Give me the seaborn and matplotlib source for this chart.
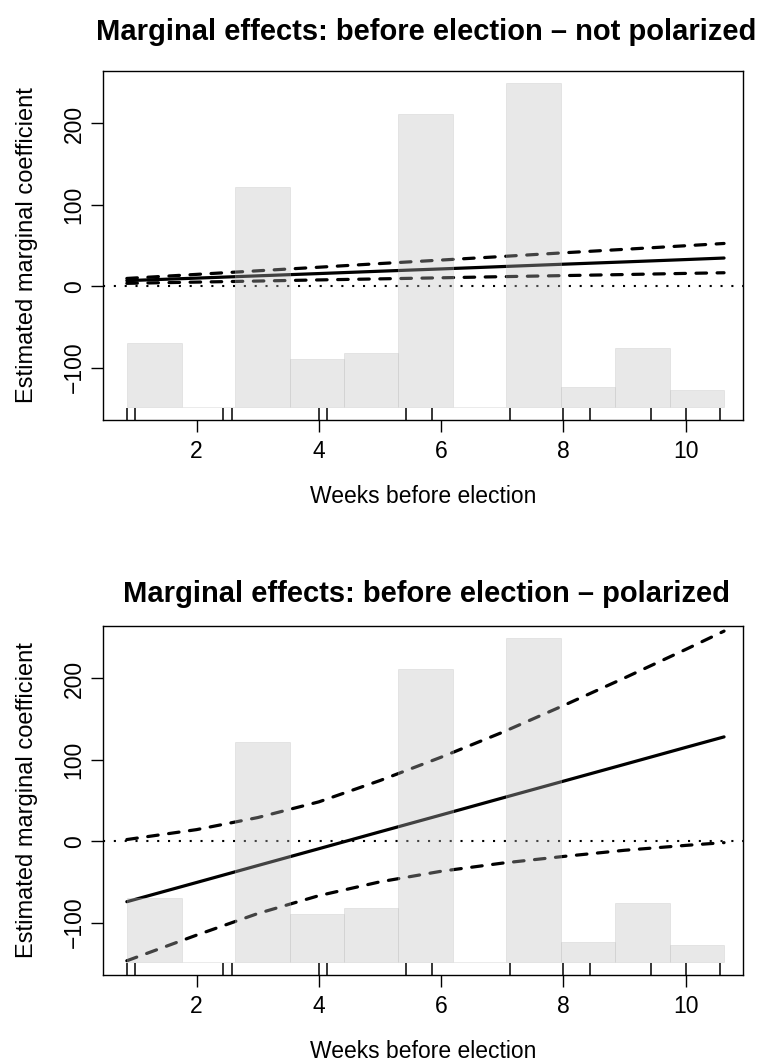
import matplotlib
matplotlib.use("Agg")
import matplotlib.pyplot as plt
import numpy as np
import pandas as pd
import seaborn as sns

# ---------------- data ----------------
x_grid = [0.86, 2, 3, 4, 5, 6, 7, 8, 9, 10, 10.63]

top_me = [6.8, 9.9, 12.7, 15.5, 18.4, 21.2, 24.1, 27.0, 29.8, 32.7, 34.6]
top_upper = [9.5, 14.5, 18.9, 23.3, 27.8, 32.1, 36.5, 41.0, 45.3, 49.7, 52.5]
top_lower = [3.5, 5.0, 6.3, 7.7, 9.0, 10.3, 11.7, 13.0, 14.3, 15.7, 16.5]

bot_me = [-74.4, -50.8, -30.0, -9.3, 11.5, 32.2, 53.0, 73.7, 94.4, 115.2, 128.2]
bot_upper = [2.0, 14.2, 29.0, 48.3, 74.5, 103.2, 133.7, 166.6, 200.6, 235.6, 258.2]
bot_lower = [-147.0, -115.5, -89.0, -67.0, -50.0, -37.0, -27.0, -18.8, -11.2, -5.2, -1.8]

hist_edges = [0.86, 1.77, 2.63, 3.53, 4.41, 5.30, 6.19, 7.07, 7.96, 8.85, 9.74, 10.63]
hist_heights = [78.5, 0.0, 270.2, 59.1, 65.8, 360.1, 0.0, 398.4, 24.9, 72.4, 20.9]
hist_base = -148.4

rug_x = [0.855, 1.0, 2.435, 2.58, 4.0, 4.14, 5.42, 5.86, 7.135, 8.0, 8.43, 9.43, 10.0, 10.56]

x_ticks = [2, 4, 6, 8, 10]
y_ticks = [-100, 0, 100, 200]

titles = ["Marginal effects: before election \u2013 not polarized",
          "Marginal effects: before election \u2013 polarized"]
x_label = "Weeks before election"
y_label = "Estimated marginal coefficient"

# ---------------- style ----------------
sns.set_theme(style="white", rc={
    "axes.edgecolor": "black", "text.color": "black", "axes.labelcolor": "black",
    "xtick.color": "black", "ytick.color": "black",
})
plt.rcParams["font.family"] = ["Liberation Sans", "DejaVu Sans"]

W, H = 757, 1063
fig = plt.figure(figsize=(W / 100, H / 100), dpi=100)


def rect_px(left, top, right, bottom):
    return [left / W, 1 - bottom / H, (right - left) / W, (bottom - top) / H]


def panel(rect, title, me, upper, lower, title_y):
    ax = fig.add_axes(rect)
    df = pd.DataFrame({"x": x_grid, "me": me, "up": upper, "lo": lower})
    dash = (0, (3.3, 3.3))
    ax.axhline(0, color="black", lw=1.5, linestyle=(0, (1, 4.2)), zorder=1)
    sns.lineplot(data=df, x="x", y="up", ax=ax, color="black", lw=2.3,
                 linestyle=dash, dash_capstyle="round", zorder=2)
    sns.lineplot(data=df, x="x", y="lo", ax=ax, color="black", lw=2.3,
                 linestyle=dash, dash_capstyle="round", zorder=2)
    sns.lineplot(data=df, x="x", y="me", ax=ax, color="black", lw=2.3,
                 solid_capstyle="round", zorder=2)
    ax.bar(hist_edges[:-1], hist_heights, width=np.diff(hist_edges), bottom=hist_base,
           align="edge", color="#BEBEBE", alpha=0.35, edgecolor="#BEBEBE",
           linewidth=0.6, zorder=3)
    ax.vlines(rug_x, 0, 0.033, transform=ax.get_xaxis_transform(), color="black",
              lw=1.1, zorder=4)
    ax.set_xlim(0.47, 10.94)
    ax.set_ylim(-164.5, 264.5)
    ax.set_xticks(x_ticks)
    ax.set_yticks(y_ticks)
    ax.tick_params(axis="both", which="major", bottom=True, left=True, direction="out",
                   length=8.5, width=1.0, labelsize=16.5, colors="black")
    ax.tick_params(axis="x", pad=6)
    ax.tick_params(axis="y", pad=4)
    for lbl in ax.get_yticklabels():
        lbl.set_rotation(90)
        lbl.set_va("center")
    for s in ax.spines.values():
        s.set_visible(True)
        s.set_color("black")
        s.set_linewidth(1.0)
    ax.set_xlabel(x_label, fontsize=16.5)
    ax.set_ylabel(y_label, fontsize=17)
    ax.xaxis.set_label_coords(0.5, -0.2206)
    ax.xaxis.label.set_va("center")
    ax.yaxis.set_label_coords(-0.119, 0.5)
    ax.yaxis.label.set_va("center")
    ax.text(0.505, title_y, title, transform=ax.transAxes, ha="center", va="center",
            fontweight="bold", fontsize=21)
    return ax


ax1 = panel(rect_px(103, 71, 743, 420), titles[0], top_me, top_upper, top_lower, 1 + (71 - 32) / 349)
ax2 = panel(rect_px(103, 626, 743, 975), titles[1], bot_me, bot_upper, bot_lower, 1 + (626 - 594) / 349)

fig.savefig("out.png", dpi=100)
